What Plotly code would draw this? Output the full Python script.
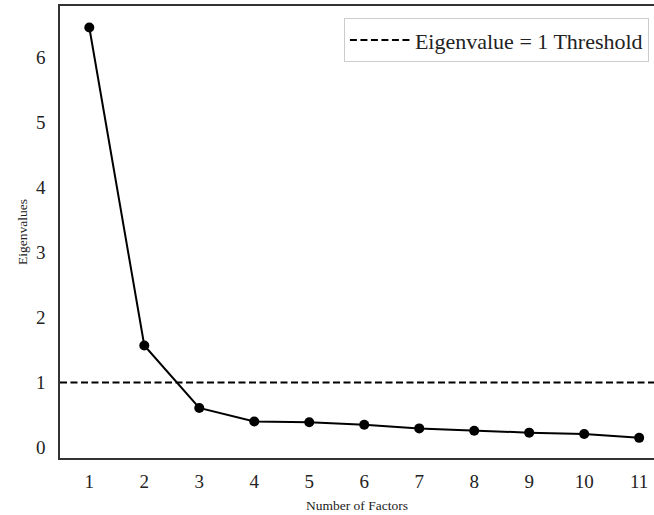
import plotly.graph_objects as go

factors = [1, 2, 3, 4, 5, 6, 7, 8, 9, 10, 11]
eigenvalues = [6.46, 1.57, 0.61, 0.40, 0.39, 0.35, 0.295, 0.26, 0.23, 0.21, 0.15]
threshold = 1
threshold_label = "Eigenvalue = 1 Threshold"
x_title = "Number of Factors"
y_title = "Eigenvalues"

SERIF = "Liberation Serif"

fig = go.Figure()
fig.add_trace(go.Scatter(
    x=factors, y=eigenvalues, mode="lines+markers",
    line=dict(color="black", width=2),
    marker=dict(color="black", size=10),
    showlegend=False,
))
fig.add_hline(
    y=threshold, line=dict(color="black", width=2, dash="7px,3.5px"),
    showlegend=True, name=threshold_label, layer="below",
)

fig.update_layout(
    width=654, height=515,
    margin=dict(l=60, r=0, t=6, b=57, autoexpand=False),
    paper_bgcolor="white", plot_bgcolor="white",
    font=dict(family=SERIF, color="#222"),
    showlegend=True,
    legend=dict(
        x=0.478, y=0.973, xanchor="left", yanchor="top",
        bgcolor="white", bordercolor="#cccccc", borderwidth=1,
        itemwidth=60,
        font=dict(family=SERIF, size=22, color="#222"),
    ),
    xaxis=dict(
        range=[0.467, 11.27], tickmode="array", tickvals=factors,
        showgrid=False, zeroline=False,
        showline=True, linecolor="#333", linewidth=1.5, mirror=True,
        ticks="", ticklabelstandoff=5,
        tickfont=dict(family=SERIF, size=19, color="#222"),
        title=dict(text=x_title, font=dict(family=SERIF, size=13.5, color="#222"), standoff=10),
    ),
    yaxis=dict(
        range=[-0.16, 6.79], tickmode="array", tickvals=[0, 1, 2, 3, 4, 5, 6],
        showgrid=False, zeroline=False,
        showline=True, linecolor="#333", linewidth=1.5, mirror=False,
        ticks="", ticklabelstandoff=9,
        tickfont=dict(family=SERIF, size=19, color="#222"),
        title=dict(text=y_title, font=dict(family=SERIF, size=13.5, color="#222"), standoff=5),
    ),
)

fig.write_html("out.html")
